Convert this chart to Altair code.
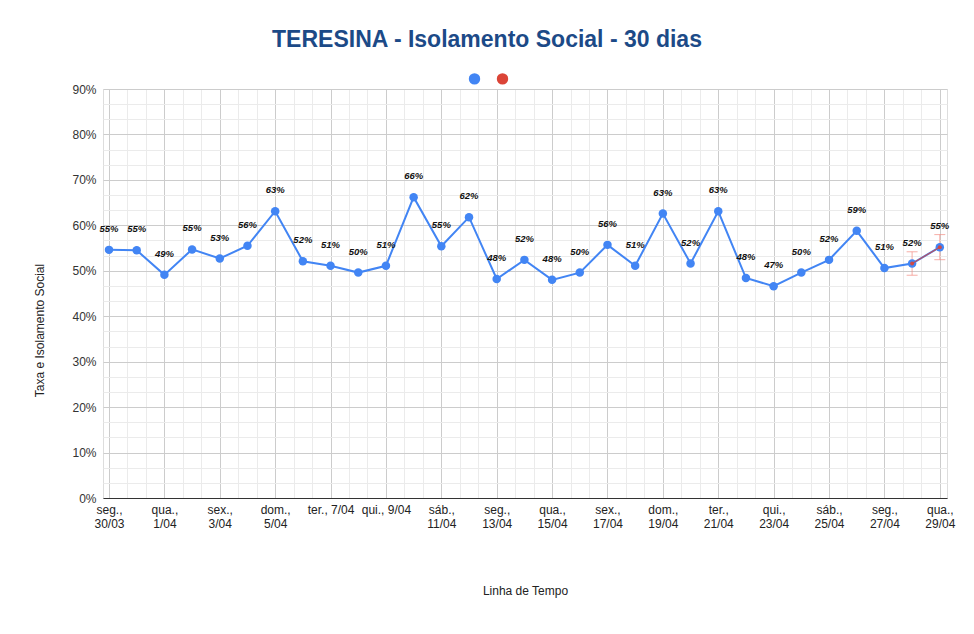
import json
import altair as alt
import pandas as pd

# ---- data ----
dates = ["30/03", "31/03", "1/04", "2/04", "3/04", "4/04", "5/04", "6/04", "7/04", "8/04",
         "9/04", "10/04", "11/04", "12/04", "13/04", "14/04", "15/04", "16/04", "17/04", "18/04",
         "19/04", "20/04", "21/04", "22/04", "23/04", "24/04", "25/04", "26/04", "27/04", "28/04",
         "29/04"]
isolamento = [54.6, 54.5, 49.1, 54.7, 52.7, 55.5, 63.1, 52.1, 51.1, 49.6,
              51.1, 66.2, 55.4, 61.8, 48.2, 52.4, 48.0, 49.6, 55.7, 51.1,
              62.6, 51.6, 63.1, 48.4, 46.6, 49.6, 52.4, 58.8, 50.6, 51.6,
              55.2]
tendencia_idx = [29, 30]          # second (red) series: 28/04 and 29/04
erro_pct = 5.0                    # error bars: +/- 5 % of value

tick_labels = ["seg.,\n30/03", "qua.,\n1/04", "sex.,\n3/04", "dom.,\n5/04", "ter., 7/04",
               "qui., 9/04", "sáb.,\n11/04", "seg.,\n13/04", "qua.,\n15/04", "sex.,\n17/04",
               "dom.,\n19/04", "ter.,\n21/04", "qui.,\n23/04", "sáb.,\n25/04", "seg.,\n27/04",
               "qua.,\n29/04"]

S1 = "Isolamento Social"
S2 = "Tendência"
BLUE = "#4285f4"
RED = "#db4437"
FONT = "Liberation Sans"

rows = []
for i, (d, v) in enumerate(zip(dates, isolamento)):
    rows.append({"dia": i, "data": d, "v": v / 100, "serie": S1})
for i in tendencia_idx:
    v = isolamento[i] / 100
    rows.append({"dia": i, "data": dates[i], "v": v, "serie": S2,
                 "lo": v * (1 - erro_pct / 100), "hi": v * (1 + erro_pct / 100)})
df = pd.DataFrame(rows)

tick_js = json.dumps([t.split("\n") for t in tick_labels], ensure_ascii=False)
x_major = "abs(datum.value/2 - round(datum.value/2)) < 0.01"
y_major = "abs(datum.value*10 - round(datum.value*10)) < 0.001"

x_vals = [k * 2 / 3 for k in range(46)]
y_vals = [k / 30 for k in range(28)]

x_scale = alt.Scale(domain=[-0.217, 30.26], nice=False, zero=False)
y_scale = alt.Scale(domain=[0, 0.9], nice=False)

x_axis = alt.Axis(
    values=x_vals, title="Linha de Tempo", titleFont=FONT, titleFontSize=12,
    titleFontWeight="normal", titleColor="#222222", titleY=92, titleBaseline="middle",
    labelExpr=f"{x_major} ? {tick_js}[round(datum.value/2)] : ''",
    labelFont=FONT, labelFontSize=12, labelColor="#222222", labelPadding=6,
    labelLineHeight=14, labelOverlap=False, labelFlush=False, labelBound=False,
    ticks=False, domain=True, domainColor="#333333", domainWidth=1,
    grid=True,
    gridColor={"condition": {"test": x_major, "value": "#cccccc"}, "value": "#ebebeb"},
)
y_axis = alt.Axis(
    values=y_vals, title="Taxa e Isolamento Social", titleFont=FONT, titleFontSize=12,
    titleFontWeight="normal", titleColor="#222222", titleX=-57, titleY=241,
    labelExpr=f"{y_major} ? format(datum.value, '.0%') : ''",
    labelFont=FONT, labelFontSize=12, labelColor="#333333", labelPadding=7,
    labelOverlap=False, labelFlush=False,
    ticks=False, domain=False, grid=True,
    gridColor={"condition": {"test": y_major, "value": "#cccccc"}, "value": "#ebebeb"},
)

color_scale = alt.Scale(domain=[S1, S2], range=[BLUE, RED])
base = alt.Chart(df)
X = alt.X("dia:Q", scale=x_scale, axis=x_axis)
Y = alt.Y("v:Q", scale=y_scale, axis=y_axis)

blue = base.transform_filter(alt.datum.serie == S1)
red = base.transform_filter(alt.datum.serie == S2)

line1 = blue.mark_line(strokeWidth=2, color=BLUE).encode(x=X, y=Y)
pts1 = blue.mark_point(filled=True, size=72, opacity=1).encode(
    x=X, y=Y,
    color=alt.Color("serie:N", scale=color_scale,
                    legend=alt.Legend(orient="none", legendX=365, legendY=-17, title=None,
                                      direction="horizontal", symbolType="circle",
                                      symbolSize=130, labelExpr="''", labelOffset=0,
                                      columnPadding=15, symbolOpacity=1, padding=0)))
labels = blue.mark_text(dy=-21, font=FONT, fontSize=9.5, fontStyle="italic",
                        fontWeight="bold", color="#111111").encode(
    x=X, y=Y, text=alt.Text("v:Q", format=".0%"))

err_rule = red.mark_rule(color="#f28b82", strokeWidth=1, opacity=0.7).encode(
    x=X, y=alt.Y("lo:Q", scale=y_scale, axis=y_axis), y2="hi:Q")
err_lo = red.mark_tick(orient="horizontal", size=11, thickness=1, color="#f28b82",
                       opacity=0.7).encode(x=X, y=alt.Y("lo:Q", scale=y_scale, axis=y_axis))
err_hi = red.mark_tick(orient="horizontal", size=11, thickness=1, color="#f28b82",
                       opacity=0.7).encode(x=X, y=alt.Y("hi:Q", scale=y_scale, axis=y_axis))
line2 = red.mark_line(strokeWidth=1.2, opacity=0.8, color=RED).encode(x=X, y=Y)
pts2 = red.mark_point(filled=True, size=16, opacity=0.9, color=RED).encode(x=X, y=Y)

chart = alt.layer(line1, err_rule, err_lo, err_hi, pts1, labels, line2, pts2).properties(
    width=844, height=409,
    title=alt.TitleParams("TERESINA - Isolamento Social - 30 dias", font=FONT, fontSize=23,
                          fontWeight="bold", color="#1c4a87", anchor="middle", dx=-38,
                          offset=20),
    autosize=alt.AutoSizeParams(type="none"),
    padding={"left": 95, "top": 81, "right": 19, "bottom": 120},
).configure_view(stroke=None).configure(background="white")

chart.save("out.html", embed_options={"renderer": "svg", "actions": False})
